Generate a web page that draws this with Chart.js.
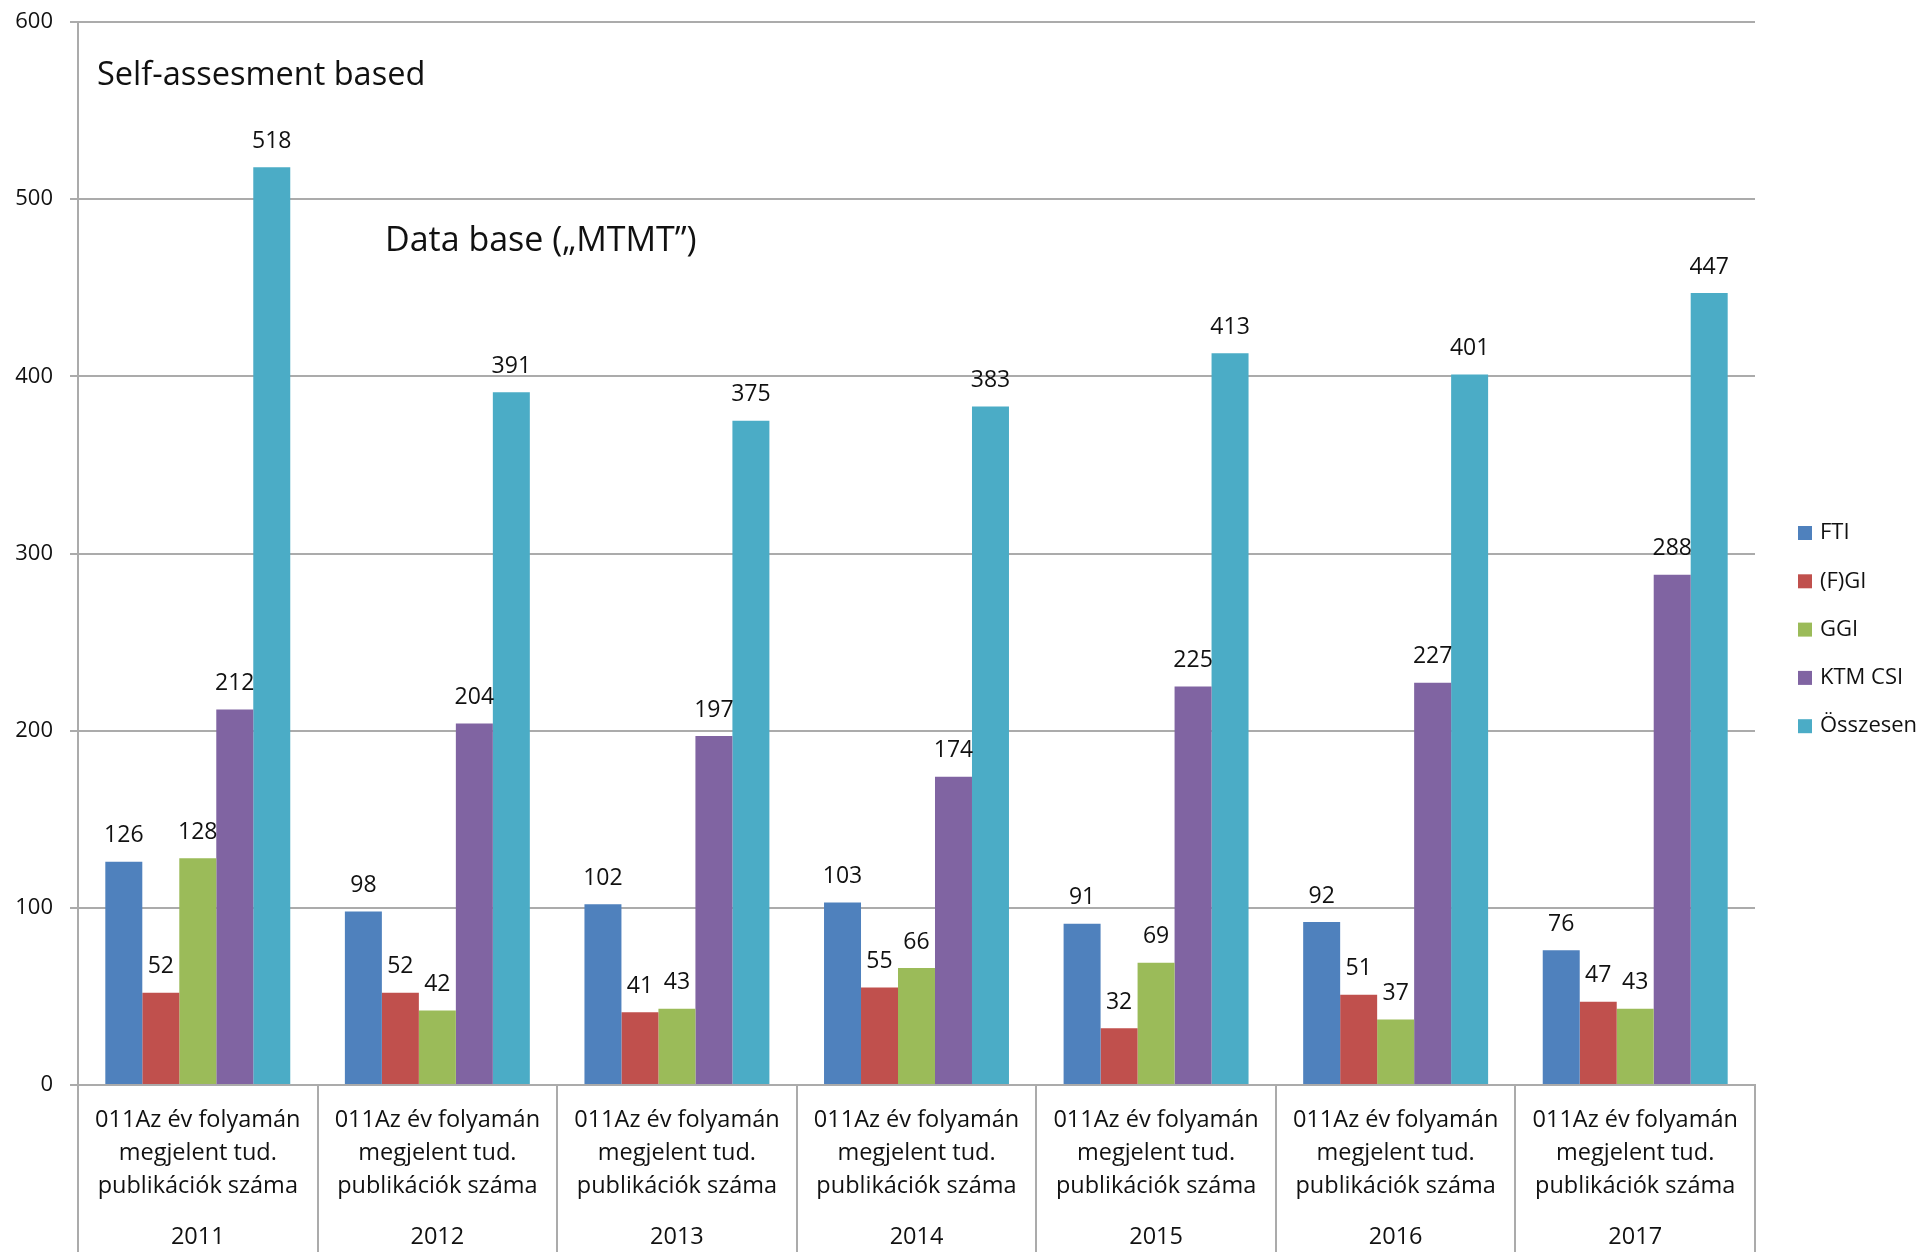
<!DOCTYPE html>
<html>
<head>
<meta charset="utf-8">
<script src="https://cdn.jsdelivr.net/npm/chart.js@4"></script>
<style>
  html, body { margin: 0; padding: 0; background: #fff; }
  canvas { display: block; }
</style>
</head>
<body>
<canvas id="chart" width="1923" height="1252"></canvas>
<script>
const years = ['2011', '2012', '2013', '2014', '2015', '2016', '2017'];
const categoryLines = ['011Az év folyamán', 'megjelent tud.', 'publikációk száma'];
const seriesNames = ['FTI', '(F)GI', 'GGI', 'KTM CSI', 'Összesen'];
const fti = [126, 98, 102, 103, 91, 92, 76];
const fgi = [52, 52, 41, 55, 32, 51, 47];
const ggi = [128, 42, 43, 66, 69, 37, 43];
const ktmCsi = [212, 204, 197, 174, 225, 227, 288];
const osszesen = [518, 391, 375, 383, 413, 401, 447];
const yTicks = [0, 100, 200, 300, 400, 500, 600];

const colors = ['#4F81BD', '#C0504D', '#9BBB59', '#8064A2', '#4BACC6'];
const FONT = '"Open Sans", sans-serif';
const GRID = '#ABABAB';
const TEXT = '#111';

const seriesValues = [fti, fgi, ggi, ktmCsi, osszesen];

// value labels, year labels, notes and legend
const extras = {
    id: 'extras',
    afterDatasetsDraw(chart) {
        const ctx = chart.ctx;
        ctx.save();
        ctx.fillStyle = TEXT;
        ctx.font = '23px ' + FONT;
        ctx.textAlign = 'center';
        ctx.textBaseline = 'middle';
        chart.data.datasets.forEach((ds, di) => {
            chart.getDatasetMeta(di).data.forEach((bar, i) => {
                ctx.fillText(String(ds.data[i]), bar.x, bar.y - 26);
            });
        });
        ctx.restore();
    },
    afterDraw(chart) {
        const ctx = chart.ctx;
        const x = chart.scales.x;
        ctx.save();
        ctx.fillStyle = TEXT;
        ctx.textBaseline = 'middle';

        ctx.font = '23.5px ' + FONT;
        ctx.textAlign = 'center';
        years.forEach((y, i) => {
            ctx.fillText(y, x.getPixelForValue(i), 1237);
        });

        ctx.textAlign = 'left';
        ctx.font = '32.5px ' + FONT;
        ctx.fillText('Self-assesment based', 97, 76);
        ctx.font = '34px ' + FONT;
        ctx.fillText('Data base (\u201eMTMT\u201d)', 385, 241);

        ctx.font = '22px ' + FONT;
        seriesNames.forEach((name, i) => {
            const cy = 533 + i * 48.3;
            ctx.fillStyle = colors[i];
            ctx.fillRect(1798, cy - 7, 14, 14);
            ctx.fillStyle = TEXT;
            ctx.fillText(name, 1820, cy);
        });
        ctx.restore();
    }
};

new Chart(document.getElementById('chart'), {
    type: 'bar',
    data: {
        labels: years.map(() => categoryLines),
        datasets: seriesNames.map((name, i) => ({
            label: name,
            data: seriesValues[i],
            backgroundColor: colors[i],
            borderWidth: 0,
            categoryPercentage: 0.772,
            barPercentage: 1
        }))
    },
    options: {
        responsive: false,
        animation: false,
        layout: {
            padding: { top: 22, right: 168, bottom: 0, left: 0 }
        },
        plugins: {
            legend: { display: false },
            tooltip: { enabled: false }
        },
        scales: {
            x: {
                offset: true,
                grid: {
                    offset: true,
                    drawOnChartArea: false,
                    drawTicks: true,
                    tickLength: 167,
                    color: GRID,
                    lineWidth: 2
                },
                border: { color: GRID, width: 2 },
                ticks: {
                    color: TEXT,
                    font: { family: FONT, size: 23.5, lineHeight: 1.4 },
                    padding: -148,
                    maxRotation: 0,
                    autoSkip: false
                },
                afterFit(scale) { scale.height = 167; }
            },
            y: {
                min: 0,
                max: 600,
                afterBuildTicks(scale) {
                    scale.ticks = yTicks.map(v => ({ value: v }));
                },
                grid: {
                    color: GRID,
                    lineWidth: 2,
                    tickLength: 8
                },
                border: { color: GRID, width: 2 },
                ticks: {
                    color: TEXT,
                    font: { family: FONT, size: 22 },
                    padding: 17
                },
                afterFit(scale) {
                    scale.width = 78;
                    scale.paddingTop = 0;
                    scale.paddingBottom = 0;
                }
            }
        }
    },
    plugins: [extras]
});
</script>
</body>
</html>
